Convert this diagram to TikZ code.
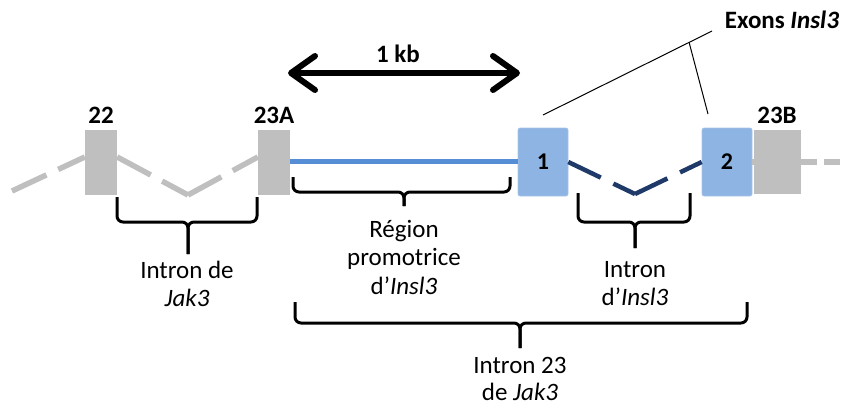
\documentclass[tikz,border=0pt]{standalone}
\usepackage{fontspec}
\setmainfont{Carlito}
\usetikzlibrary{arrows.meta}
\definecolor{exgray}{HTML}{BFBFBF}
\definecolor{exblue}{HTML}{8DB4E2}
\definecolor{exbluedraw}{HTML}{A6C4EA}
\definecolor{promblue}{HTML}{558ED5}
\definecolor{navy}{HTML}{1F3A68}
\begin{document}
\begin{tikzpicture}[x=1pt,y=-1pt,
  grayexon/.style={rectangle,fill=exgray,inner sep=0pt},
  blueexon/.style={rectangle,fill=exblue,draw=exbluedraw,line width=0.6pt,rounded corners=2pt,inner sep=0pt,minimum width=50pt,minimum height=68pt,font=\fontsize{24}{28}\selectfont\bfseries},
  grayline/.style={draw=exgray,line width=5.5pt,dash pattern=on 38pt off 13pt},
  navyline/.style={draw=navy,line width=4.5pt,dash pattern=on 36pt off 14pt},
  bracepath/.style={draw=black,line width=3pt,rounded corners=6pt},
  boldlbl/.style={inner sep=0pt,anchor=base,font=\fontsize{25}{29}\selectfont\bfseries},
  bodytxt/.style={inner sep=0pt,anchor=north,align=center,font=\fontsize{25}{28.5}\selectfont},
  callout/.style={draw=black,line width=1pt},
  kbarrow/.style={draw=black,line width=6pt,{Straight Barb[length=24pt,width=34pt,round]}-{Straight Barb[length=24pt,width=34pt,round]}}
]
\useasboundingbox (0,0) rectangle (846,410);

% exons
\node[grayexon,minimum width=32pt,minimum height=65pt] (e22) at (101,162) {};
\node[grayexon,minimum width=32pt,minimum height=65pt] (e23a) at (274,162) {};
\node[blueexon] (e1) at (543,162) {1};
\node[blueexon] (e2) at (727,162) {2};
\node[grayexon,minimum width=47pt,minimum height=64pt] (e23b) at (777.5,162) {};

% gray Jak3 intron lines
\coordinate (gstart) at (12,191);
\coordinate (gv) at (188,195);
\coordinate (gend) at (846,162);
\draw[grayline] (gstart) -- ([yshift=5pt]e22.west);
\draw[grayline] ([yshift=5pt]e22.east) -- (gv);
\draw[grayline] (gv) -- ([yshift=5pt]e23a.west);
\draw[draw=exgray,line width=5.5pt] (e2.east) -- (e23b.west);
\draw[draw=exgray,line width=5.5pt,dash pattern=on 16pt off 7pt] (e23b.east) -- (gend);

% promoter region
\draw[draw=promblue,line width=5pt] ([yshift=1pt]e23a.east) -- ([yshift=1pt]e1.west);

% Insl3 intron
\coordinate (nv) at (635,194);
\draw[navyline] (e1.east) -- (nv);
\draw[navyline] (nv) -- (e2.west);

% exon labels
\node[boldlbl] (l22) at (101,123) {22};
\node[boldlbl] (l23a) at (274,123) {23A};
\node[boldlbl] (l23b) at (777,123) {23B};

% 1 kb arrow
\coordinate (a1) at (288,73);
\coordinate (a2) at (520,73);
\draw[kbarrow] (a1) -- (a2);
\node[boldlbl] (kb) at (398,62) {1 kb};

% Exons Insl3 callout
\node[boldlbl] (exl) at (782,28) {Exons \textit{Insl3}};
\coordinate (c1) at (543,115);
\coordinate (c2) at (712,31);
\coordinate (c3) at (689,42);
\coordinate (c4) at (708,114);
\draw[callout] (c1) -- (c2);
\draw[callout] (c3) -- (c4);

% braces
\draw[bracepath] (117,197) -- (117,222) -- (188,222) -- (188,254);
\draw[bracepath] (257,197) -- (257,222) -- (188,222) -- (188,254);
\draw[bracepath] (293,177) -- (293,192) -- (404,192) -- (404,206);
\draw[bracepath] (510,177) -- (510,192) -- (404,192) -- (404,206);
\draw[bracepath] (578,193) -- (578,222) -- (635,222) -- (635,248);
\draw[bracepath] (690,193) -- (690,222) -- (635,222) -- (635,248);
\draw[bracepath] (295,302) -- (295,323) -- (520,323) -- (520,348);
\draw[bracepath] (747,302) -- (747,323) -- (520,323) -- (520,348);

% texts
\node[bodytxt] (tjak) at (187,258) {\strut Intron de\\\strut\textit{Jak3}};
\node[bodytxt] (tprom) at (404,217) {\strut Région\\\strut promotrice\\\strut d’\textit{Insl3}};
\node[bodytxt] (tins) at (635,257) {\strut Intron\\\strut d’\textit{Insl3}};
\node[bodytxt,font=\fontsize{25}{27.5}\selectfont] (t23) at (520,354) {\strut Intron 23\\\strut de \textit{Jak3}};
\end{tikzpicture}
\end{document}
